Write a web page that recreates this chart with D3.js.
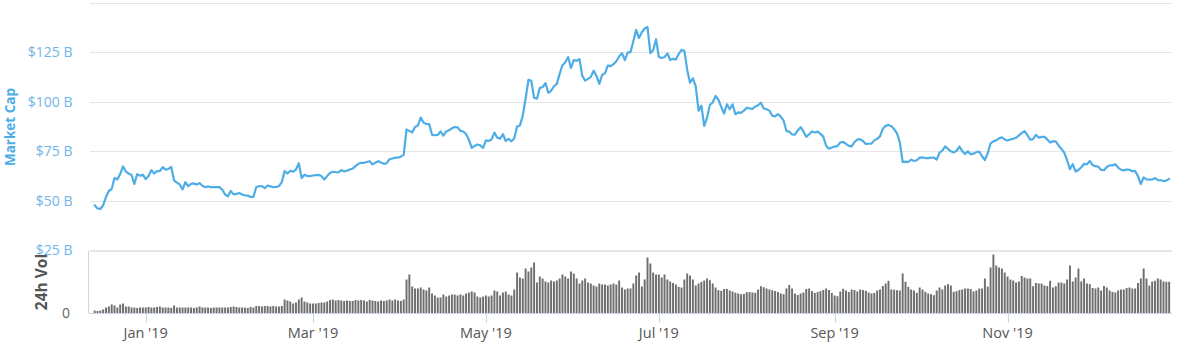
<!DOCTYPE html>
<html><head><meta charset="utf-8">
<script src="https://cdn.jsdelivr.net/npm/d3@7"></script>
<style>body{margin:0;background:#fff}svg{display:block}text{font-family:'Open Sans',sans-serif}</style>
</head><body><svg id="c" width="1182" height="354"></svg>
<script>
// Daily series starting at this date
const startDate = "2018-12-14";
const domainStart = "2018-12-12";
const domainEnd = "2019-12-29";

// Market cap, $B
const marketCap = [
47.8,46.2,45.9,47.8,52.0,55.0,56.0,61.5,60.8,63.5,67.4,64.8,63.8,63.1,58.5,63.5,62.7,63.2,61.0,62.6,
65.5,63.8,65.0,65.0,67.0,65.8,66.1,67.1,60.3,59.2,58.3,55.8,59.4,57.4,58.6,58.8,58.2,59.0,57.6,56.9,
57.3,56.9,57.0,56.9,56.9,55.7,53.2,52.3,55.0,53.3,53.5,54.0,53.2,52.8,52.7,52.0,52.0,57.0,57.4,57.4,
56.4,57.7,57.3,56.9,57.1,57.4,59.5,65.0,63.8,65.2,64.7,65.8,69.0,61.5,63.2,62.5,62.5,62.8,63.0,63.1,
62.5,60.8,62.5,64.1,64.7,64.5,64.4,65.5,64.9,65.2,65.8,66.3,67.5,68.7,69.2,69.2,69.6,70.0,68.4,69.2,
70.0,
69.3,68.7,69.0,71.0,71.4,71.8,71.8,72.4,73.2,86.0,85.3,84.5,87.3,88.0,92.0,89.5,88.7,88.7,83.3,83.1,
83.3,85.0,82.9,85.0,85.6,86.6,87.2,87.1,85.3,85.0,83.7,80.8,76.7,77.7,78.4,78.0,76.7,80.5,80.2,81.0,
84.4,81.9,81.4,83.6,80.2,81.3,80.0,81.6,87.5,88.0,93.0,101.5,111.0,110.5,102.0,101.5,107.0,107.3,109.4,104.5,
105.5,107.8,109.0,114.0,118.4,119.9,122.5,117.0,121.0,120.6,121.5,113.0,110.6,111.5,112.5,115.6,113.0,109.0,113.5,114.3,
118.2,117.9,118.9,120.4,122.8,124.5,121.0,124.7,125.0,130.5,136.2,132.1,135.0,136.9,137.6,124.5,125.9,131.5,122.5,122.0,
122.5,124.4,
121.0,121.6,121.3,124.0,126.1,125.6,116.0,109.6,111.8,107.8,95.5,98.0,87.8,92.0,98.4,99.6,102.9,101.0,97.4,94.0,
98.7,96.2,98.7,93.7,94.6,94.4,95.5,97.0,96.6,96.3,97.6,98.2,99.5,96.6,96.2,95.5,92.9,92.6,93.7,92.5,
90.5,85.2,84.9,83.5,83.4,85.5,87.2,85.0,82.3,83.6,85.0,84.5,84.9,83.8,82.4,77.8,76.3,76.9,77.4,77.6,
79.5,79.7,78.7,77.7,77.5,79.7,80.9,81.1,80.2,78.7,78.8,78.9,80.5,81.3,82.5,86.4,87.8,88.3,87.6,86.2,
84.0,79.5,69.6,69.8,69.6,70.8,70.1,70.5,71.8,71.9,71.6,71.6,71.8,71.8,70.8,74.3,75.3,77.5,76.2,75.0,
74.4,75.2,77.4,
75.2,73.6,75.0,73.5,73.8,74.6,74.8,72.5,70.6,74.0,79.0,80.0,80.5,81.5,82.0,81.0,80.4,81.0,81.3,81.8,
83.0,84.2,85.2,83.1,80.8,81.1,83.3,81.9,82.3,82.3,81.0,79.4,80.0,80.0,77.9,76.2,74.3,70.5,66.0,68.5,
64.8,65.6,67.0,68.7,68.4,70.1,68.1,67.5,67.2,65.6,65.5,67.1,67.9,67.9,68.5,66.8,65.7,65.4,65.8,65.7,
65.0,65.0,62.5,58.5,61.8,60.8,60.7,60.8,61.5,60.5,60.4,60.0,60.2,61.1
];

// 24h volume (relative units)
const volume = [
3,2.5,3,4,6,7,9,8,6,9,10,7,7,
6,6,5.5,6,6,6,6.5,6,6,6.5,7,6,6,6,5.5,8,6,6,6,6,6,6,5.5,6,7,6,6,6,5.5,6,6,6,6,6,6,6.5,7,6.5,6,6,6,5.5,6.5,6,
7.5,7.5,7,7.5,7.5,7,7.5,7,7,7.5,
14,13,12,10,11,14,16,12,11,10,10,10,10.5,11,11,12,13.5,14,13,13.5,13,12.5,13,12.5,12.5,13.5,13,13.5,13,12,13.5,13,12.5,12,
13,12.5,13,14,13,14,13,12.5,14,34,39,27,25,25,26,24,23,26,20,18,16,16,19,17,18,19,19,18,19,18,
20,21,22,21,17,16,17,18,17,18,23,22,18,21,22,19,18,24,41,36,35,45,42,46,51,31,37,35,32,31,
33,32,33,35,39,37,35,42,40,35,30,33,35,31,30,28,27,30,29,29,28,29,30,29,33,26,24,25,25,30,
38,41,27,34,56,50,41,39,39,36,39,34,
32,30.5,29,26.7,26,34,40,38,34,28,30,31.7,33,35,33.3,30,26,23.3,22.7,24.5,24.5,23,22,20.8,20,
19.3,19.5,21.3,21.3,21,20.7,24,27.3,26.3,25,24,23.3,22.5,21.5,20,19.3,25,28.5,25,20,18.5,20,21,24.5,25,
22.5,20.7,21.5,22.3,23.5,25,23.5,20.5,18,17.3,22,24.7,23,21.5,24,23.5,22,24,23.5,22.7,21,20,20.5,23,24,
27.5,30,32.7,24,23.8,23.3,23,40,
31.7,26.7,24,23,20.7,26,24,21.7,20,19.3,18.3,23,26,24,28,29.3,28,21.7,22.3,23.3,
24,25,25,24.5,22,23,25,25,35,27,46,59,48,46,45,41,37,34,33,31,32,37.5,36,35,35,27.3,30.5,30,30,28,
27.5,32.7,26,27.3,31,31,30,34,48,32,36,45,32,35,30,29.3,25.5,25,26,23,27.5,26,23,21.5,21,23,24,24,25.5,26,
25,25,30.5,35,45,35,28,32,32.7,35,34,32,31.7,31.7
];

const capTicks = [25, 50, 75, 100, 125, 150];
const capTickLabels = ["$25 B", "$50 B", "$75 B", "$100 B", "$125 B", ""];
const monthTicks = ["2019-01-01", "2019-03-01", "2019-05-01", "2019-07-01", "2019-09-01", "2019-11-01"];
const monthLabels = ["Jan '19", "Mar '19", "May '19", "Jul '19", "Sep '19", "Nov '19"];

const svg = d3.select("#c");
const parse = d3.utcParse("%Y-%m-%d");
const t0 = parse(startDate);
const dates = marketCap.map((_, i) => d3.utcDay.offset(t0, i));

const left = 89, right = 1172;
const x = d3.scaleUtc().domain([parse(domainStart), parse(domainEnd)]).range([left, right]);
const y = d3.scaleLinear().domain([25, 150]).range([250.5, 2.5]);
const yv = d3.scaleLinear().domain([0, 62]).range([313.5, 251.5]);

// gridlines
svg.append("g").selectAll("line").data(capTicks).join("line")
  .attr("x1", left + 1).attr("x2", right)
  .attr("y1", d => Math.round(y(d)) + 0.5).attr("y2", d => Math.round(y(d)) + 0.5)
  .attr("stroke", "#e6e6e6").attr("stroke-width", 1);
// volume pane top border
svg.append("line").attr("x1", left + 1).attr("x2", right)
  .attr("y1", yv(62) - 0.5).attr("y2", yv(62) - 0.5).attr("stroke", "#e6e6e6").attr("stroke-width", 2);

// y labels
svg.append("g").selectAll("text").data(capTicks).join("text")
  .attr("x", 72.5).attr("y", d => y(d)).attr("dy", "0.35em")
  .attr("text-anchor", "end").attr("fill", "#6fb5e8").attr("font-size", 14)
  .text((d, i) => capTickLabels[i]);

// volume bars
const dayW = x(d3.utcDay.offset(t0, 1)) - x(t0);
svg.append("g").selectAll("rect").data(volume).join("rect")
  .attr("x", (d, i) => x(dates[i]) - dayW * 0.34)
  .attr("width", dayW * 0.68)
  .attr("y", d => yv(d))
  .attr("height", d => yv(0) - yv(d))
  .attr("fill", "#6e6e6e");

// volume axis lines
svg.append("line").attr("x1", left - 0.5).attr("x2", left - 0.5).attr("y1", 251).attr("y2", 313.5)
  .attr("stroke", "#ccd6eb");
svg.append("line").attr("x1", left).attr("x2", right).attr("y1", 313.5).attr("y2", 313.5)
  .attr("stroke", "#ccd6eb");
svg.append("text").attr("x", 70).attr("y", yv(0)).attr("dy", "0.35em").attr("text-anchor", "end")
  .attr("fill", "#666").attr("font-size", 14).text("0");

// x ticks
const mt = monthTicks.map(parse);
svg.append("g").selectAll("line").data(mt).join("line")
  .attr("x1", d => Math.round(x(d)) + 0.5).attr("x2", d => Math.round(x(d)) + 0.5)
  .attr("y1", 314).attr("y2", 323).attr("stroke", "#ccd6eb");
svg.append("g").selectAll("text").data(mt).join("text")
  .attr("x", d => x(d)).attr("y", 338).attr("text-anchor", "middle")
  .attr("fill", "#555").attr("font-size", 14.5).text((d, i) => monthLabels[i]);

// market cap line
const line = d3.line().x((d, i) => x(dates[i])).y(d => y(d)).curve(d3.curveLinear);
svg.append("path").datum(marketCap).attr("d", line)
  .attr("fill", "none").attr("stroke", "#4fade6").attr("stroke-width", 2.2)
  .attr("stroke-linejoin", "round").attr("stroke-linecap", "round");

// axis titles
svg.append("text").attr("transform", "translate(14.5,127) rotate(-90)")
  .attr("text-anchor", "middle").attr("fill", "#4fade6").attr("font-weight", "bold")
  .attr("font-size", 13.5).text("Market Cap");
svg.append("text").attr("transform", "translate(47,282) rotate(-90)")
  .attr("text-anchor", "middle").attr("fill", "#555").attr("font-weight", "bold")
  .attr("font-size", 15.5).text("24h Vol");
</script></body></html>
